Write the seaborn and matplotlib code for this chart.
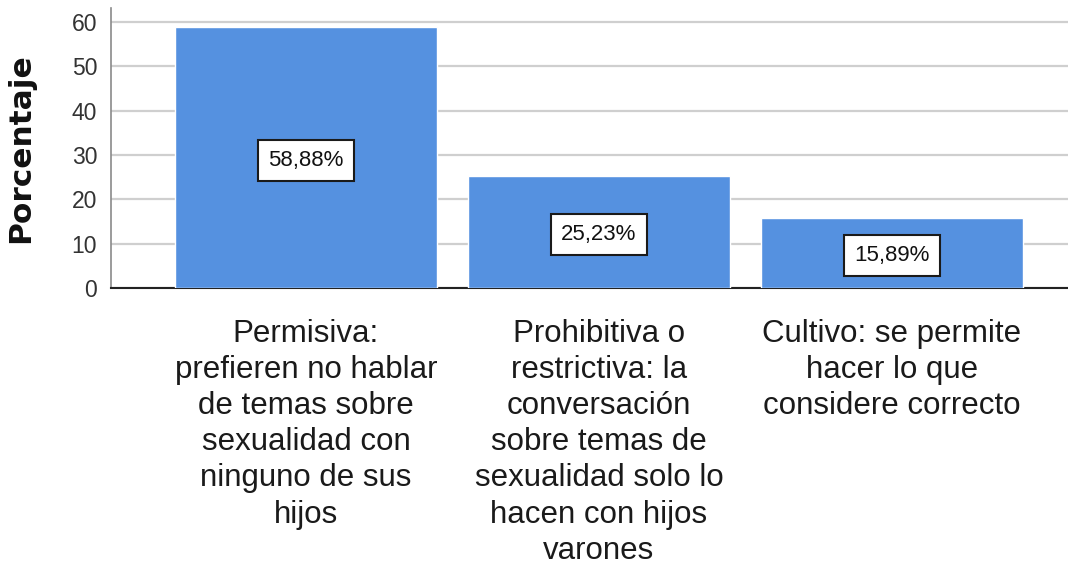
import matplotlib
matplotlib.use("Agg")
import matplotlib.pyplot as plt
import seaborn as sns
import pandas as pd

categories = [
    "Permisiva:\nprefieren no hablar\nde temas sobre\nsexualidad con\nninguno de sus\nhijos",
    "Prohibitiva o\nrestrictiva: la\nconversación\nsobre temas de\nsexualidad solo lo\nhacen con hijos\nvarones",
    "Cultivo: se permite\nhacer lo que\nconsidere correcto",
]
percentages = [58.88, 25.23, 15.89]
value_labels = ["58,88%", "25,23%", "15,89%"]
y_ticks = [0, 10, 20, 30, 40, 50, 60]

sns.set_style("white")
plt.rcParams["font.family"] = ["Liberation Sans", "DejaVu Sans"]

df = pd.DataFrame({"cat": categories, "pct": percentages})

fig = plt.figure(figsize=(10.68, 5.68), dpi=100)
ax = fig.add_axes([111 / 1068, 1 - 288 / 568, (1068 - 111) / 1068, (288 - 8) / 568])

sns.barplot(data=df, x="cat", y="pct", color="#5591E0", saturation=1,
            width=0.894, ax=ax, zorder=3)

ax.set_xlim(-0.6655, 2.6007)
ax.set_ylim(0, 63.2)
ax.set_yticks(y_ticks)
ax.set_yticklabels([str(t) for t in y_ticks], fontsize=16.5, color="#333333")
ax.yaxis.grid(True, color="#CFCFCF", linewidth=1.6, zorder=0)
ax.set_axisbelow(True)
ax.tick_params(axis="y", length=0, pad=10)
ax.tick_params(axis="x", length=0, pad=22)
for lbl in ax.get_xticklabels():
    lbl.set_fontsize(22.5)
    lbl.set_color("#1a1a1a")
    lbl.set_linespacing(1.27)
    lbl.set_verticalalignment("top")

ax.set_xlabel("")
ax.set_ylabel("Porcentaje", fontsize=22.5, fontweight="bold",
              family="DejaVu Sans", color="#111111")
ax.yaxis.set_label_coords(-0.079, 0.5)

for s in ["top", "right"]:
    ax.spines[s].set_visible(False)
ax.spines["left"].set_color("#8a8a8a")
ax.spines["left"].set_linewidth(1.2)
ax.spines["bottom"].set_color("#222222")
ax.spines["bottom"].set_linewidth(1.5)

for i, (v, t) in enumerate(zip(percentages, value_labels)):
    ax.text(i, v / 2 - 0.6, t, ha="center", va="center", fontsize=16,
            color="#111111", zorder=5,
            bbox=dict(boxstyle="square,pad=0.45", facecolor="white",
                      edgecolor="#1a1a1a", linewidth=1.5))

fig.savefig("out.png", dpi=100, facecolor="white")
